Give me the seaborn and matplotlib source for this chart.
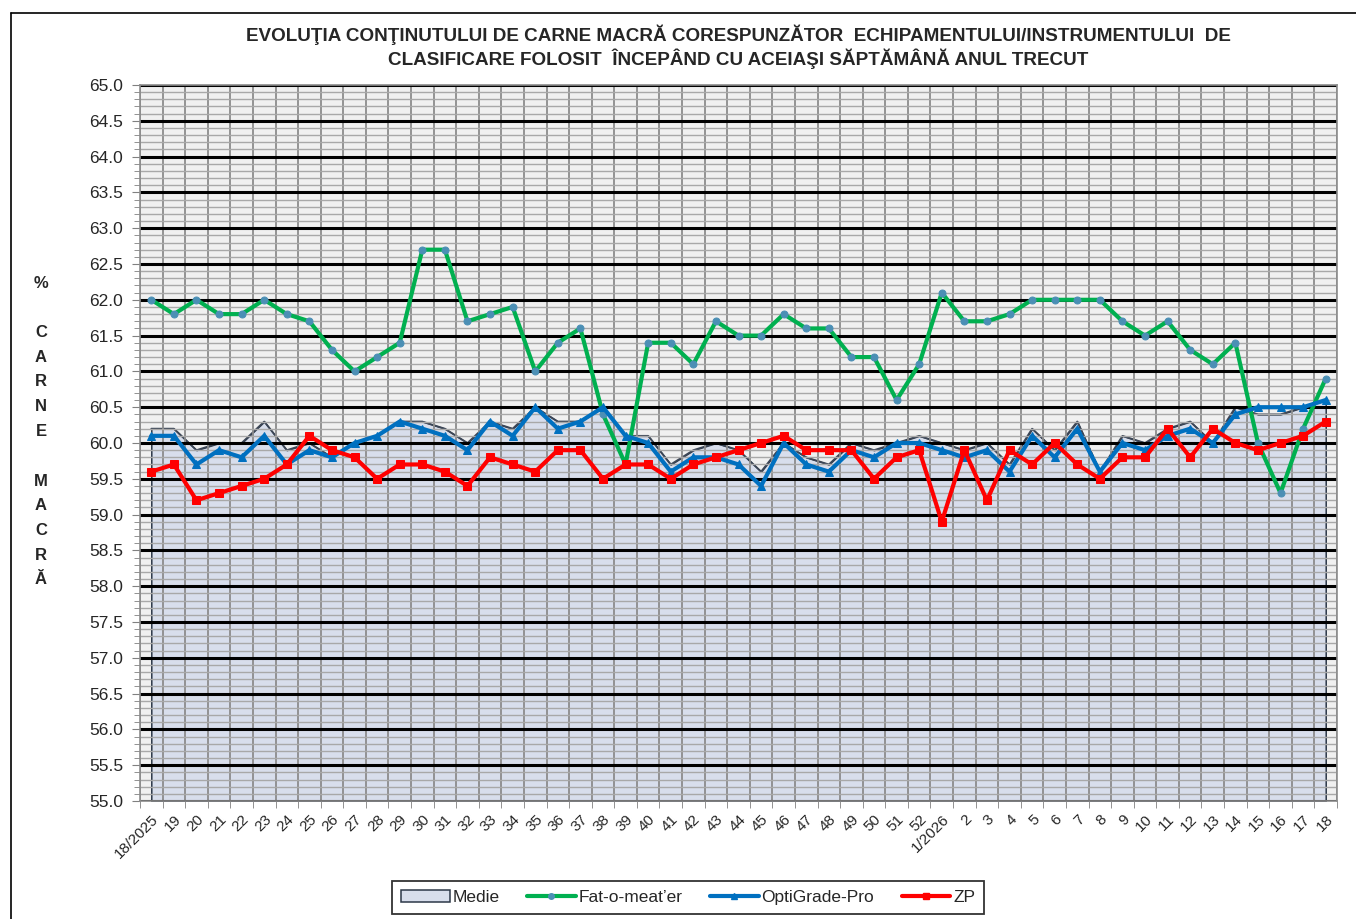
import numpy as np
import pandas as pd
import matplotlib
matplotlib.use("Agg")
import matplotlib.pyplot as plt
import matplotlib.ticker as mticker
from matplotlib.patches import Patch
from matplotlib.lines import Line2D
import seaborn as sns

# ---------------- data ----------------
weeks = (["18/2025"] + [str(w) for w in range(19, 53)] +
         ["1/2026"] + [str(w) for w in range(2, 19)])

medie = [60.2, 60.2, 59.9, 60.0, 60.0, 60.3, 59.9, 60.0, 59.8, 60.0,
         60.1, 60.3, 60.3, 60.2, 60.0, 60.3, 60.2, 60.5, 60.3, 60.3,
         60.5, 60.1, 60.1, 59.7, 59.9, 60.0, 59.9, 59.6, 60.0, 59.8,
         59.7, 60.0, 59.9, 60.0, 60.1, 60.0, 59.9, 60.0, 59.7, 60.2,
         59.9, 60.3, 59.6, 60.1, 60.0, 60.2, 60.3, 60.0, 60.5, 60.4,
         60.4, 60.5, 60.6]

fat_o_meater = [62.0, 61.8, 62.0, 61.8, 61.8, 62.0, 61.8, 61.7, 61.3, 61.0,
                61.2, 61.4, 62.7, 62.7, 61.7, 61.8, 61.9, 61.0, 61.4, 61.6,
                60.4, 59.7, 61.4, 61.4, 61.1, 61.7, 61.5, 61.5, 61.8, 61.6,
                61.6, 61.2, 61.2, 60.6, 61.1, 62.1, 61.7, 61.7, 61.8, 62.0,
                62.0, 62.0, 62.0, 61.7, 61.5, 61.7, 61.3, 61.1, 61.4, 60.0,
                59.3, 60.2, 60.9]

optigrade = [60.1, 60.1, 59.7, 59.9, 59.8, 60.1, 59.7, 59.9, 59.8, 60.0,
             60.1, 60.3, 60.2, 60.1, 59.9, 60.3, 60.1, 60.5, 60.2, 60.3,
             60.5, 60.1, 60.0, 59.6, 59.8, 59.8, 59.7, 59.4, 60.0, 59.7,
             59.6, 59.9, 59.8, 60.0, 60.0, 59.9, 59.8, 59.9, 59.6, 60.1,
             59.8, 60.2, 59.6, 60.0, 59.9, 60.1, 60.2, 60.0, 60.4, 60.5,
             60.5, 60.5, 60.6]

zp = [59.6, 59.7, 59.2, 59.3, 59.4, 59.5, 59.7, 60.1, 59.9, 59.8,
      59.5, 59.7, 59.7, 59.6, 59.4, 59.8, 59.7, 59.6, 59.9, 59.9,
      59.5, 59.7, 59.7, 59.5, 59.7, 59.8, 59.9, 60.0, 60.1, 59.9,
      59.9, 59.9, 59.5, 59.8, 59.9, 58.9, 59.9, 59.2, 59.9, 59.7,
      60.0, 59.7, 59.5, 59.8, 59.8, 60.2, 59.8, 60.2, 60.0, 59.9,
      60.0, 60.1, 60.3]

series_names = ["Medie", "Fat-o-meat\u2019er", "OptiGrade-Pro", "ZP"]
title = ("EVOLUŢIA CONŢINUTULUI DE CARNE MACRĂ CORESPUNZĂTOR  "
         "ECHIPAMENTULUI/INSTRUMENTULUI  DE\n"
         "CLASIFICARE FOLOSIT  ÎNCEPÂND CU ACEIAŞI SĂPTĂMÂNĂ ANUL TRECUT")
ylabel_chars = ["%", "", "C", "A", "R", "N", "E", "", "M", "A", "C", "R", "Ă"]

# ---------------- figure ----------------
sns.set_style("white")
plt.rcParams["font.family"] = ["Liberation Sans", "DejaVu Sans"]

W, H = 1356, 919
fig = plt.figure(figsize=(W / 100, H / 100), dpi=100)
ax = fig.add_axes([140 / W, 1 - 801 / H, (1337 - 140) / W, (801 - 85) / H])
ax.set_facecolor("#f0f0f0")

x = np.arange(len(weeks))
df = pd.DataFrame({"x": x, "medie": medie, "fat": fat_o_meater,
                   "opti": optigrade, "zp": zp})

# area "Medie"
ax.fill_between(df["x"], 55, df["medie"], facecolor="#d8deec",
                edgecolor="#2c3848", linewidth=1.1, zorder=1)
ax.plot(df["x"], df["medie"], color="#3c4656", lw=1.3, zorder=1.2)

green, blue, red = "#00b050", "#0070c0", "#ff0000"
sns.lineplot(data=df, x="x", y="fat", ax=ax, color=green, lw=3,
             marker="o", markersize=5, markerfacecolor="#4b8fb5",
             markeredgecolor="#4b8fb5", zorder=4)
sns.lineplot(data=df, x="x", y="opti", ax=ax, color=blue, lw=3,
             marker="^", markersize=6, markerfacecolor=blue,
             markeredgecolor=blue, zorder=4)
sns.lineplot(data=df, x="x", y="zp", ax=ax, color=red, lw=3,
             marker="s", markersize=5.5, markerfacecolor=red,
             markeredgecolor=red, zorder=4)

# axes / grid
ax.set_xlim(-0.5, len(weeks) - 0.5)
ax.set_ylim(55, 65)
ax.set_xlabel("")
ax.set_ylabel("")
ax.yaxis.set_major_locator(mticker.MultipleLocator(0.5))
ax.yaxis.set_minor_locator(mticker.MultipleLocator(0.1))
ax.yaxis.set_major_formatter(mticker.FormatStrFormatter("%.1f"))
ax.set_xticks(x)
ax.set_xticklabels(weeks, rotation=45, ha="right", rotation_mode="anchor",
                   fontsize=11)
ax.set_xticks(np.arange(-0.5, len(weeks), 1), minor=True)
ax.tick_params(axis="x", which="major", length=0, pad=8)
ax.tick_params(axis="x", which="minor", length=5, color="#808080",
               direction="out", bottom=True)
ax.tick_params(axis="y", which="major", length=6, color="#808080",
               direction="out", left=True, labelsize=12.5, pad=6)
ax.tick_params(axis="y", which="minor", length=4, color="#808080",
               direction="out", left=True)
ax.set_axisbelow(False)
ax.grid(which="major", axis="y", color="black", lw=2.2)
ax.grid(which="minor", axis="y", color="#a8a8a8", lw=1.0)
ax.grid(which="minor", axis="x", color="#8c8c8c", lw=1.3)
ax.grid(which="major", axis="x", visible=False)
for s in ax.spines.values():
    s.set_color("#8c8c8c")
    s.set_linewidth(1.2)
    s.set_zorder(2.6)

# title
fig.text(738 / W, 1 - 47 / H, title, ha="center", va="center",
         fontsize=13.6, fontweight="bold", linespacing=1.2)

# vertical y label
for k, ch in enumerate(ylabel_chars):
    if ch:
        fig.text(41 / W, 1 - (283 + 24.75 * k) / H, ch, ha="center",
                 va="center", fontsize=12, fontweight="bold")

# legend
handles = [Patch(facecolor="#d8deec", edgecolor="#2c3848", lw=1.1),
           Line2D([], [], color=green, lw=3, marker="o", markersize=4,
                  markerfacecolor="#4b8fb5", markeredgecolor="#4b8fb5"),
           Line2D([], [], color=blue, lw=3, marker="^", markersize=4,
                  markerfacecolor=blue, markeredgecolor=blue),
           Line2D([], [], color=red, lw=3, marker="s", markersize=4,
                  markerfacecolor=red, markeredgecolor=red)]
leg = fig.legend(handles, series_names, loc="center",
                 bbox_to_anchor=(688 / W, 1 - 897.5 / H), ncol=4,
                 frameon=True, fancybox=False, edgecolor="black",
                 fontsize=12.5, handlelength=2.8, handletextpad=0.15,
                 columnspacing=1.6, borderpad=0.5, borderaxespad=0)
leg.get_frame().set_linewidth(1.3)

# outer border (left and top visible in reference)
fig.add_artist(Line2D([10.5 / W, 10.5 / W], [0, 1 - 12.5 / H],
                      color="black", lw=1.2, transform=fig.transFigure))
fig.add_artist(Line2D([10.5 / W, 1], [1 - 12.5 / H, 1 - 12.5 / H],
                      color="black", lw=1.2, transform=fig.transFigure))

fig.savefig("out.png", dpi=100, facecolor="white")
